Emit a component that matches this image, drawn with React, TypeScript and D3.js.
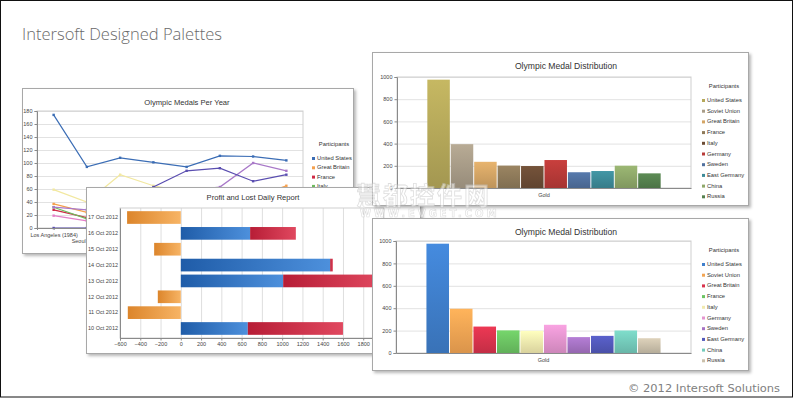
import { useEffect, useRef } from "react";
import * as d3 from "d3";

// Olympic Medals Per Year
const YEARS = ["Los Angeles (1984)", "Seoul (1988)", "Barcelona (1992)", "Atlanta (1996)", "Sydney (2000)", "Athens (2004)", "Beijing (2008)", "London (2012)"];
const LINE_NAMES = ["United States", "Great Britain", "France", "Italy", "Germany", "Sweden", "China", "Russia"];
const US_MEDALS = [174, 94, 108, 101, 94, 111, 110, 104];
const GB_MEDALS = [37, 24, 20, 15, 28, 30, 47, 65];
const FRANCE_MEDALS = [28, 16, 29, 37, 38, 33, 41, 34];
const ITALY_MEDALS = [32, 14, 19, 35, 34, 32, 28, 28];
const GERMANY_MEDALS = [59, 40, 82, 65, 56, 49, 41, 44];
const SWEDEN_MEDALS = [19, 11, 12, 8, 12, 7, 5, 8];
const CHINA_MEDALS = [32, 28, 54, 50, 58, 63, 100, 88];
const RUSSIA_MEDALS = [0, 0, 0, 63, 88, 92, 72, 82];
const LINE_COLORS = ["#3b6db5", "#f5a04d", "#cf2a46", "#6dbb5e", "#f2e8a0", "#e47fc8", "#a878c8", "#5a4eb0"];

// Profit and Lost Daily Report
const DAYS = ["10 Oct 2012", "11 Oct 2012", "12 Oct 2012", "13 Oct 2012", "14 Oct 2012", "15 Oct 2012", "16 Oct 2012", "17 Oct 2012"];
const LOST = [0, -523, -227, 0, 0, -263, 0, -530];
const SALES = [661, 0, 0, 1010, 1474, 0, 684, 0];
const PROFIT = [939, 0, 0, 960, 26, 0, 451, 0];
const PL_TICKS = [-600, -400, -200, 0, 200, 400, 600, 800, 1000, 1200, 1400, 1600, 1800, 2000];

// Olympic Medal Distribution
const COUNTRIES = ["United States", "Soviet Union", "Great Britain", "France", "Italy", "Germany", "Sweden", "East Germany", "China", "Russia"];
const GOLD = [976, 395, 236, 202, 198, 252, 142, 153, 201, 132];
const EARTH_COLORS = ["#b5a85a", "#a89c88", "#d4a565", "#8e7a5a", "#6b4c35", "#b83a38", "#50709e", "#3d8a98", "#8fa86a", "#55804e"];
const BRIGHT_COLORS = ["#3f7fcc", "#f3a553", "#d9334d", "#6cc463", "#f1eaaf", "#e495cf", "#a673c4", "#5259bb", "#74cbbb", "#cbc0ab"];

const FONT = "'Liberation Sans', Arial, sans-serif";
const plain = d3.format("d");

function panel(g, x, y, w, h) {
  g.append("rect")
    .attr("x", x + 0.5).attr("y", y + 0.5).attr("width", w).attr("height", h)
    .attr("fill", "#fff").attr("stroke", "#a8a8a8").attr("filter", "url(#shadow)");
}

function styleAxis(a, size = 5.5) {
  a.select(".domain").attr("stroke", "#8a8a8a");
  a.selectAll(".tick line").attr("stroke", "#8a8a8a");
  a.selectAll(".tick text").attr("fill", "#444").attr("font-size", size).attr("font-family", FONT);
}

function legend(g, x, y, names, colors, step) {
  g.append("text").attr("x", x + 22).attr("y", y).attr("text-anchor", "middle")
    .attr("font-size", 5.8).attr("fill", "#333").text("Participants");
  names.forEach((n, i) => {
    const yy = y + 14 + i * step;
    g.append("rect").attr("x", x).attr("y", yy - 3).attr("width", 3).attr("height", 3).attr("fill", colors[i]);
    g.append("text").attr("x", x + 5).attr("y", yy).attr("font-size", 5.8).attr("fill", "#333").text(n);
  });
}

function medalBars(svg, defs, box, plot, colors, id, legendAt) {
  const g = svg.append("g").attr("font-family", FONT);
  panel(g, box.x, box.y, box.w, box.h);
  g.append("text").attr("x", box.x + 194).attr("y", box.y + 17).attr("text-anchor", "middle")
    .attr("font-size", 8.6).attr("fill", "#333").text("Olympic Medal Distribution");

  const y = d3.scaleLinear([0, 1000], [plot.b, plot.t]);
  const x = d3.scaleBand(["Gold"], [plot.l, plot.r]).paddingOuter(0.13);
  const sub = d3.scaleBand(COUNTRIES, [0, x.bandwidth()]).paddingInner(0.04);

  g.append("g").attr("transform", `translate(${plot.l},0)`)
    .call(d3.axisLeft(y).tickValues(d3.range(200, 1001, 200)).tickSize(-(plot.r - plot.l)).tickFormat(() => ""))
    .call((a) => { a.select(".domain").remove(); a.selectAll("line").attr("stroke", "#e2e2e2"); });
  g.append("rect").attr("x", plot.l).attr("y", plot.t).attr("width", plot.r - plot.l).attr("height", plot.b - plot.t)
    .attr("fill", "none").attr("stroke", "#cfcfcf");

  COUNTRIES.forEach((c, i) => {
    const gid = `${id}-${i}`;
    const lg = defs.append("linearGradient").attr("id", gid).attr("x1", 0).attr("x2", 0).attr("y1", 0).attr("y2", 1);
    lg.append("stop").attr("offset", 0).attr("stop-color", d3.color(colors[i]).brighter(0.25).formatHex());
    lg.append("stop").attr("offset", 1).attr("stop-color", d3.color(colors[i]).darker(0.3).formatHex());
  });
  g.selectAll("rect.bar").data(GOLD).join("rect").attr("class", "bar")
    .attr("x", (d, i) => x("Gold") + sub(COUNTRIES[i]))
    .attr("width", sub.bandwidth())
    .attr("y", (d) => y(d)).attr("height", (d) => y(0) - y(d))
    .attr("fill", (d, i) => `url(#${id}-${i})`);

  g.append("g").attr("transform", `translate(${plot.l},0)`)
    .call(d3.axisLeft(y).tickValues(d3.range(0, 1001, 200)).tickFormat(plain).tickSize(2.5).tickPadding(2))
    .call((a) => styleAxis(a));
  g.append("g").attr("transform", `translate(0,${plot.b})`)
    .call(d3.axisBottom(x).tickSize(0).tickPadding(5))
    .call((a) => styleAxis(a));

  legend(g, legendAt.x, legendAt.y, COUNTRIES, colors, 10.7);
}

export default function App() {
  const svgRef = useRef(null);

  useEffect(() => {
    document.body.style.margin = "0";
    const svg = d3.select(svgRef.current);
    svg.selectAll("*").remove();
    const defs = svg.append("defs");
    defs.append("filter").attr("id", "shadow").attr("x", "-5%").attr("y", "-5%").attr("width", "115%").attr("height", "120%")
      .append("feDropShadow").attr("dx", 2).attr("dy", 2).attr("stdDeviation", 1.6)
      .attr("flood-color", "#000").attr("flood-opacity", 0.28);

    // page
    svg.append("rect").attr("x", 0.5).attr("y", 0.5).attr("width", 792).attr("height", 396.5)
      .attr("fill", "#fff").attr("stroke", "#111");
    svg.append("text").attr("x", 22).attr("y", 40).attr("font-family", "'Open Sans', sans-serif").attr("font-weight", 300)
      .attr("font-size", 17).attr("fill", "#6a6a6a").attr("textLength", 200).attr("lengthAdjust", "spacingAndGlyphs")
      .text("Intersoft Designed Palettes");
    svg.append("text").attr("x", 780).attr("y", 392).attr("text-anchor", "end").attr("font-family", "'DejaVu Sans', sans-serif")
      .attr("font-size", 10).attr("fill", "#808080").attr("textLength", 152).attr("lengthAdjust", "spacingAndGlyphs")
      .text("© 2012 Intersoft Solutions");

    // ---- line chart
    const g1 = svg.append("g").attr("font-family", FONT);
    panel(g1, 22, 88, 331, 165);
    g1.append("text").attr("x", 187).attr("y", 105).attr("text-anchor", "middle")
      .attr("font-size", 7.6).attr("fill", "#333").text("Olympic Medals Per Year");
    const lx = d3.scalePoint(YEARS, [37, 303]).padding(0.5);
    const ly = d3.scaleLinear([0, 180], [228, 111]);
    g1.append("g").attr("transform", "translate(37,0)")
      .call(d3.axisLeft(ly).tickValues(d3.range(20, 181, 20)).tickSize(-266).tickFormat(() => ""))
      .call((a) => { a.select(".domain").remove(); a.selectAll("line").attr("stroke", "#e2e2e2"); });
    g1.append("rect").attr("x", 37).attr("y", 111).attr("width", 266).attr("height", 117).attr("fill", "none").attr("stroke", "#cfcfcf");
    const lineSeries = [US_MEDALS, GB_MEDALS, FRANCE_MEDALS, ITALY_MEDALS, GERMANY_MEDALS, SWEDEN_MEDALS, CHINA_MEDALS, RUSSIA_MEDALS];
    const line = d3.line().x((d, i) => lx(YEARS[i])).y((d) => ly(d));
    lineSeries.forEach((vals, k) => {
      g1.append("path").attr("d", line(vals)).attr("fill", "none").attr("stroke", LINE_COLORS[k]).attr("stroke-width", 1.2);
      g1.selectAll(null).data(vals).join("rect")
        .attr("x", (d, i) => lx(YEARS[i]) - 1.2).attr("y", (d) => ly(d) - 1.2)
        .attr("width", 2.4).attr("height", 2.4).attr("fill", LINE_COLORS[k]);
    });
    g1.append("g").attr("transform", "translate(37,0)")
      .call(d3.axisLeft(ly).tickValues(d3.range(0, 181, 20)).tickSize(2.5).tickPadding(2))
      .call((a) => styleAxis(a));
    g1.append("g").attr("transform", "translate(0,228)")
      .call(d3.axisBottom(lx).tickSize(2).tickPadding(3))
      .call((a) => {
        styleAxis(a);
        a.selectAll(".tick text").attr("dy", (d, i) => (i % 2 ? "1.9em" : "0.71em"));
      });
    legend(g1, 312, 146, LINE_NAMES, LINE_COLORS, 9.3);

    // ---- profit and lost
    const g2 = svg.append("g").attr("font-family", FONT);
    panel(g2, 86, 187, 334, 166);
    g2.append("text").attr("x", 253).attr("y", 200).attr("text-anchor", "middle")
      .attr("font-size", 7.6).attr("fill", "#333").text("Profit and Lost Daily Report");
    const px = d3.scaleLinear([-600, 2000], [120, 383.5]);
    const py = d3.scaleBand(DAYS, [338, 208]).padding(0.2);
    g2.append("g").attr("transform", "translate(0,338)")
      .call(d3.axisBottom(px).tickValues(PL_TICKS.slice(1)).tickSize(-130).tickFormat(() => ""))
      .call((a) => { a.select(".domain").remove(); a.selectAll("line").attr("stroke", "#dedede"); });
    g2.append("rect").attr("x", 120).attr("y", 208).attr("width", 263.5).attr("height", 130).attr("fill", "none").attr("stroke", "#cfcfcf");

    const grads = [["pl-lost", "#dc852b", "#f7b465"], ["pl-sales", "#1f5ca8", "#4d90dc"], ["pl-profit", "#b71d36", "#e0485f"]];
    grads.forEach(([id, a, b]) => {
      const lg = defs.append("linearGradient").attr("id", id).attr("x1", 0).attr("x2", 1).attr("y1", 0).attr("y2", 0);
      lg.append("stop").attr("offset", 0).attr("stop-color", a);
      lg.append("stop").attr("offset", 1).attr("stop-color", b);
    });
    const rows = DAYS.map((d, i) => ({ day: d, lost: LOST[i], sales: SALES[i], profit: PROFIT[i] }));
    const stacked = d3.stack().keys(["lost", "sales", "profit"]).offset(d3.stackOffsetDiverging)(rows);
    stacked.forEach((layer) => {
      g2.selectAll(null).data(layer.filter((s) => s[1] !== s[0])).join("rect")
        .attr("x", (s) => px(Math.min(s[0], s[1])))
        .attr("width", (s) => Math.abs(px(s[1]) - px(s[0])))
        .attr("y", (s) => py(s.data.day)).attr("height", py.bandwidth())
        .attr("fill", `url(#pl-${layer.key})`);
    });
    g2.append("g").attr("transform", "translate(120,0)")
      .call(d3.axisLeft(py).tickSize(0).tickPadding(2))
      .call((a) => styleAxis(a, 5.5));
    g2.append("g").attr("transform", "translate(0,338)")
      .call(d3.axisBottom(px).tickValues(PL_TICKS).tickFormat(plain).tickSize(2.5).tickPadding(2))
      .call((a) => styleAxis(a));

    // ---- medal distribution, two palettes
    medalBars(svg, defs, { x: 372, y: 52, w: 376, h: 153 }, { l: 397, r: 691, t: 77, b: 188 }, EARTH_COLORS, "earth", { x: 702, y: 88 });
    medalBars(svg, defs, { x: 372, y: 218, w: 376, h: 152 }, { l: 396, r: 691, t: 241, b: 353 }, BRIGHT_COLORS, "bright", { x: 702, y: 252 });

    // watermark
    const wm = svg.append("g").attr("opacity", 0.55);
    wm.append("text").attr("x", 356).attr("y", 205).attr("font-family", "'Noto Sans CJK SC', sans-serif").attr("font-weight", 700)
      .attr("font-size", 25).attr("letter-spacing", 2).attr("fill", "#fff").attr("stroke", "#c4c4c4").attr("stroke-width", 0.8)
      .text("慧都控件网");
    wm.append("text").attr("x", 360).attr("y", 217).attr("font-family", "'DejaVu Sans', sans-serif").attr("font-weight", 700)
      .attr("font-size", 10).attr("letter-spacing", 3).attr("fill", "#fff").attr("stroke", "#c4c4c4").attr("stroke-width", 0.6)
      .text("WWW.EVGET.COM");
  }, []);

  return <svg ref={svgRef} width={793} height={399} style={{ display: "block" }} />;
}
